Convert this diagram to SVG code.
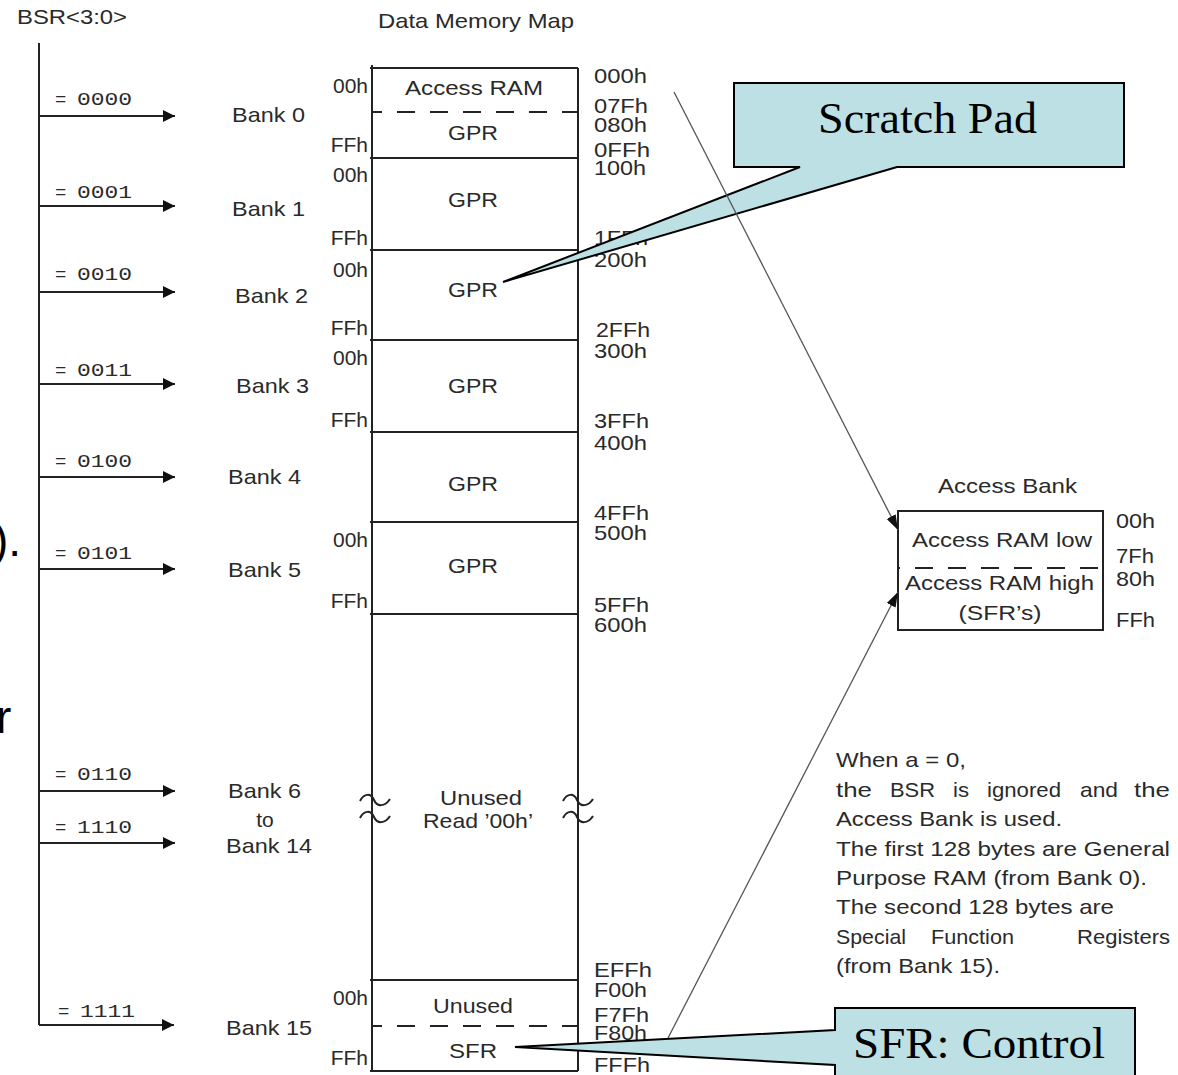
<svg xmlns="http://www.w3.org/2000/svg" width="1178" height="1075" viewBox="0 0 1178 1075">
<style>
.t{font-family:"Liberation Sans",Arial,sans-serif;font-size:21px;fill:#2a2a2a}
.h{font-family:"Liberation Sans",Arial,sans-serif;font-size:21px;fill:#2a2a2a}
.m{font-family:"Liberation Mono","Courier New",monospace;font-size:19px;fill:#2a2a2a}
.c{font-family:"Liberation Serif","Times New Roman",serif;font-size:44px;fill:#000}
.big{font-family:"Liberation Sans",Arial,sans-serif;font-size:46px;fill:#000}
.ln{stroke:#222;stroke-width:2;fill:none}
.dash{stroke:#222;stroke-width:2;stroke-dasharray:18 15;fill:none}
.thin{stroke:#555;stroke-width:1.3;fill:none}
.call{fill:#BCE0E3;stroke:#000;stroke-width:2;stroke-linejoin:miter}
</style>
<defs>
<marker id="ah" markerUnits="userSpaceOnUse" markerWidth="14" markerHeight="14" refX="12" refY="6" orient="auto">
<path d="M0,0 L12,6 L0,12 Z" fill="#111"/>
</marker>
<marker id="ad" markerUnits="userSpaceOnUse" markerWidth="16" markerHeight="12" refX="15" refY="5" orient="auto">
<path d="M0,0 L15,5 L0,10 Z" fill="#111"/>
</marker>
</defs>
<rect width="1178" height="1075" fill="#fff"/>

<g id="cropped-text">
<text class="big" x="-7" y="556">).</text>
<text class="big" x="-4" y="733">r</text>
</g>

<g id="titles">
<text class="t" x="17" y="24" textLength="110" lengthAdjust="spacingAndGlyphs">BSR&lt;3:0&gt;</text>
<text class="t" x="378" y="28" textLength="196" lengthAdjust="spacingAndGlyphs">Data Memory Map</text>
</g>

<g id="bsr-bus">
<path class="ln" d="M39,43 V1025"/>
<g id="connectors">
<path class="ln" d="M39,116 H175" marker-end="url(#ah)"/>
<path class="ln" d="M39,206 H175" marker-end="url(#ah)"/>
<path class="ln" d="M39,292 H175" marker-end="url(#ah)"/>
<path class="ln" d="M39,384 H175" marker-end="url(#ah)"/>
<path class="ln" d="M39,477 H175" marker-end="url(#ah)"/>
<path class="ln" d="M39,569 H175" marker-end="url(#ah)"/>
<path class="ln" d="M39,791 H175" marker-end="url(#ah)"/>
<path class="ln" d="M39,843 H175" marker-end="url(#ah)"/>
<path class="ln" d="M39,1025 H174" marker-end="url(#ah)"/>
</g>
<text class="m" y="105"><tspan x="55">=</tspan><tspan x="77" textLength="55" lengthAdjust="spacingAndGlyphs">0000</tspan></text>
<text class="m" y="198"><tspan x="55">=</tspan><tspan x="77" textLength="55" lengthAdjust="spacingAndGlyphs">0001</tspan></text>
<text class="m" y="280"><tspan x="55">=</tspan><tspan x="77" textLength="55" lengthAdjust="spacingAndGlyphs">0010</tspan></text>
<text class="m" y="376"><tspan x="55">=</tspan><tspan x="77" textLength="55" lengthAdjust="spacingAndGlyphs">0011</tspan></text>
<text class="m" y="467"><tspan x="55">=</tspan><tspan x="77" textLength="55" lengthAdjust="spacingAndGlyphs">0100</tspan></text>
<text class="m" y="559"><tspan x="55">=</tspan><tspan x="77" textLength="55" lengthAdjust="spacingAndGlyphs">0101</tspan></text>
<text class="m" y="780"><tspan x="55">=</tspan><tspan x="77" textLength="55" lengthAdjust="spacingAndGlyphs">0110</tspan></text>
<text class="m" y="833"><tspan x="55">=</tspan><tspan x="77" textLength="55" lengthAdjust="spacingAndGlyphs">1110</tspan></text>
<text class="m" y="1017"><tspan x="58">=</tspan><tspan x="80" textLength="55" lengthAdjust="spacingAndGlyphs">1111</tspan></text>
</g>

<g id="bank-labels">
<text class="t" x="232" y="122" textLength="73" lengthAdjust="spacingAndGlyphs">Bank 0</text>
<text class="t" x="232" y="216" textLength="73" lengthAdjust="spacingAndGlyphs">Bank 1</text>
<text class="t" x="235" y="303" textLength="73" lengthAdjust="spacingAndGlyphs">Bank 2</text>
<text class="t" x="236" y="393" textLength="73" lengthAdjust="spacingAndGlyphs">Bank 3</text>
<text class="t" x="228" y="484" textLength="73" lengthAdjust="spacingAndGlyphs">Bank 4</text>
<text class="t" x="228" y="577" textLength="73" lengthAdjust="spacingAndGlyphs">Bank 5</text>
<text class="t" x="228" y="798" textLength="73" lengthAdjust="spacingAndGlyphs">Bank 6</text>
<text class="t" x="265" y="827" text-anchor="middle">to</text>
<text class="t" x="226" y="853" textLength="86" lengthAdjust="spacingAndGlyphs">Bank 14</text>
<text class="t" x="226" y="1035" textLength="86" lengthAdjust="spacingAndGlyphs">Bank 15</text>
</g>

<g id="memory-map">
<path class="ln" d="M372,65 V1071 M578,68 V1071"/>
<path class="ln" d="M370,68 H578 M370,158 H578 M370,250 H578 M370,340 H578 M370,432 H578 M370,522 H578 M370,614 H578 M370,980 H578 M370,1071 H578"/>
<path class="dash" d="M372,112 H578" stroke-dashoffset="8"/>
<path class="dash" d="M372,1026 H578" stroke-dashoffset="8"/>
<path class="ln" stroke-width="1.5" d="M360,801 C364,793 371,793 374,800 C377,807 385,807 390,799 M360,818 C364,810 371,810 374,817 C377,824 385,824 390,816"/>
<path class="ln" stroke-width="1.5" d="M563,801 C567,793 574,793 577,800 C580,807 588,807 593,799 M563,818 C567,810 574,810 577,817 C580,824 588,824 593,816"/>
<text class="t" x="474" y="95" text-anchor="middle" textLength="138" lengthAdjust="spacingAndGlyphs">Access RAM</text>
<text class="t" x="473" y="140" text-anchor="middle" textLength="50" lengthAdjust="spacingAndGlyphs">GPR</text>
<text class="t" x="473" y="207" text-anchor="middle" textLength="50" lengthAdjust="spacingAndGlyphs">GPR</text>
<text class="t" x="473" y="297" text-anchor="middle" textLength="50" lengthAdjust="spacingAndGlyphs">GPR</text>
<text class="t" x="473" y="393" text-anchor="middle" textLength="50" lengthAdjust="spacingAndGlyphs">GPR</text>
<text class="t" x="473" y="491" text-anchor="middle" textLength="50" lengthAdjust="spacingAndGlyphs">GPR</text>
<text class="t" x="473" y="573" text-anchor="middle" textLength="50" lengthAdjust="spacingAndGlyphs">GPR</text>
<text class="t" x="481" y="805" text-anchor="middle" textLength="82" lengthAdjust="spacingAndGlyphs">Unused</text>
<text class="t" x="478" y="828" text-anchor="middle" textLength="110" lengthAdjust="spacingAndGlyphs">Read ’00h’</text>
<text class="t" x="473" y="1013" text-anchor="middle" textLength="80" lengthAdjust="spacingAndGlyphs">Unused</text>
<text class="t" x="473" y="1058" text-anchor="middle" textLength="48" lengthAdjust="spacingAndGlyphs">SFR</text>
</g>

<g id="offsets-left">
<text class="h" x="368" y="93" text-anchor="end">00h</text>
<text class="h" x="368" y="152" text-anchor="end">FFh</text>
<text class="h" x="368" y="182" text-anchor="end">00h</text>
<text class="h" x="368" y="245" text-anchor="end">FFh</text>
<text class="h" x="368" y="277" text-anchor="end">00h</text>
<text class="h" x="368" y="335" text-anchor="end">FFh</text>
<text class="h" x="368" y="365" text-anchor="end">00h</text>
<text class="h" x="368" y="427" text-anchor="end">FFh</text>
<text class="h" x="368" y="547" text-anchor="end">00h</text>
<text class="h" x="368" y="608" text-anchor="end">FFh</text>
<text class="h" x="368" y="1005" text-anchor="end">00h</text>
<text class="h" x="368" y="1065" text-anchor="end">FFh</text>
</g>

<g id="addresses-right">
<text class="h" x="594" y="83" textLength="53" lengthAdjust="spacingAndGlyphs">000h</text>
<text class="h" x="594" y="113" textLength="54" lengthAdjust="spacingAndGlyphs">07Fh</text>
<text class="h" x="594" y="132" textLength="53" lengthAdjust="spacingAndGlyphs">080h</text>
<text class="h" x="594" y="157" textLength="56" lengthAdjust="spacingAndGlyphs">0FFh</text>
<text class="h" x="594" y="175" textLength="52" lengthAdjust="spacingAndGlyphs">100h</text>
<text class="h" x="594" y="245" textLength="54" lengthAdjust="spacingAndGlyphs">1FFh</text>
<text class="h" x="594" y="267" textLength="53" lengthAdjust="spacingAndGlyphs">200h</text>
<text class="h" x="596" y="337" textLength="54" lengthAdjust="spacingAndGlyphs">2FFh</text>
<text class="h" x="594" y="358" textLength="53" lengthAdjust="spacingAndGlyphs">300h</text>
<text class="h" x="594" y="428" textLength="55" lengthAdjust="spacingAndGlyphs">3FFh</text>
<text class="h" x="594" y="450" textLength="53" lengthAdjust="spacingAndGlyphs">400h</text>
<text class="h" x="594" y="520" textLength="55" lengthAdjust="spacingAndGlyphs">4FFh</text>
<text class="h" x="594" y="540" textLength="53" lengthAdjust="spacingAndGlyphs">500h</text>
<text class="h" x="594" y="612" textLength="55" lengthAdjust="spacingAndGlyphs">5FFh</text>
<text class="h" x="594" y="632" textLength="53" lengthAdjust="spacingAndGlyphs">600h</text>
<text class="h" x="594" y="977" textLength="58" lengthAdjust="spacingAndGlyphs">EFFh</text>
<text class="h" x="594" y="997" textLength="53" lengthAdjust="spacingAndGlyphs">F00h</text>
<text class="h" x="594" y="1022" textLength="55" lengthAdjust="spacingAndGlyphs">F7Fh</text>
<text class="h" x="594" y="1040" textLength="53" lengthAdjust="spacingAndGlyphs">F80h</text>
<text class="h" x="594" y="1072" textLength="56" lengthAdjust="spacingAndGlyphs">FFFh</text>
</g>

<g id="access-bank">
<text class="t" x="938" y="493" textLength="139" lengthAdjust="spacingAndGlyphs">Access Bank</text>
<path class="ln" d="M898,511 H1103 V630 H898 Z"/>
<path class="dash" d="M898,568 H1103" stroke-dasharray="20 14" stroke-dashoffset="16"/>
<text class="t" x="912" y="547" textLength="180" lengthAdjust="spacingAndGlyphs">Access RAM low</text>
<text class="t" x="905" y="590" textLength="189" lengthAdjust="spacingAndGlyphs">Access RAM high</text>
<text class="t" x="1000" y="620" text-anchor="middle" textLength="83" lengthAdjust="spacingAndGlyphs">(SFR’s)</text>
<text class="h" x="1116" y="528" textLength="39" lengthAdjust="spacingAndGlyphs">00h</text>
<text class="h" x="1116" y="563" textLength="38" lengthAdjust="spacingAndGlyphs">7Fh</text>
<text class="h" x="1116" y="586" textLength="39" lengthAdjust="spacingAndGlyphs">80h</text>
<text class="h" x="1116" y="627" textLength="39" lengthAdjust="spacingAndGlyphs">FFh</text>
</g>

<g id="note">
<text class="t" x="836" y="767" textLength="130" lengthAdjust="spacingAndGlyphs">When a = 0,</text>
<text class="t" y="797"><tspan x="836" textLength="36" lengthAdjust="spacingAndGlyphs">the</tspan><tspan x="890" textLength="45" lengthAdjust="spacingAndGlyphs">BSR</tspan><tspan x="953" textLength="16" lengthAdjust="spacingAndGlyphs">is</tspan><tspan x="987" textLength="74" lengthAdjust="spacingAndGlyphs">ignored</tspan><tspan x="1080" textLength="38" lengthAdjust="spacingAndGlyphs">and</tspan><tspan x="1134" textLength="36" lengthAdjust="spacingAndGlyphs">the</tspan></text>
<text class="t" x="836" y="826" textLength="226" lengthAdjust="spacingAndGlyphs">Access Bank is used.</text>
<text class="t" x="836" y="856" textLength="334" lengthAdjust="spacingAndGlyphs">The first 128 bytes are General</text>
<text class="t" x="836" y="885" textLength="311" lengthAdjust="spacingAndGlyphs">Purpose RAM (from Bank 0).</text>
<text class="t" x="836" y="914" textLength="278" lengthAdjust="spacingAndGlyphs">The second 128 bytes are</text>
<text class="t" y="944"><tspan x="836" textLength="70" lengthAdjust="spacingAndGlyphs">Special</tspan><tspan x="931" textLength="83" lengthAdjust="spacingAndGlyphs">Function</tspan><tspan x="1077" textLength="93" lengthAdjust="spacingAndGlyphs">Registers</tspan></text>
<text class="t" x="836" y="973" textLength="164" lengthAdjust="spacingAndGlyphs">(from Bank 15).</text>
</g>

<g id="callout-scratch-pad">
<path class="call" d="M734,83 H1124 V167 H897 L503,282 L800,167 H734 Z"/>
<text class="c" x="818" y="133" textLength="219" lengthAdjust="spacingAndGlyphs">Scratch Pad</text>
</g>

<g id="access-connectors">
<path class="thin" d="M674,92 L898,530" marker-end="url(#ad)"/>
<path class="thin" d="M668,1038 L898,592" marker-end="url(#ad)"/>
</g>

<g id="callout-sfr">
<path class="call" d="M835,1008 H1135 V1080 H835 V1065 L515,1047 L835,1030 Z"/>
<text class="c" x="853" y="1058" textLength="252" lengthAdjust="spacingAndGlyphs">SFR:  Control</text>
</g>
</svg>
